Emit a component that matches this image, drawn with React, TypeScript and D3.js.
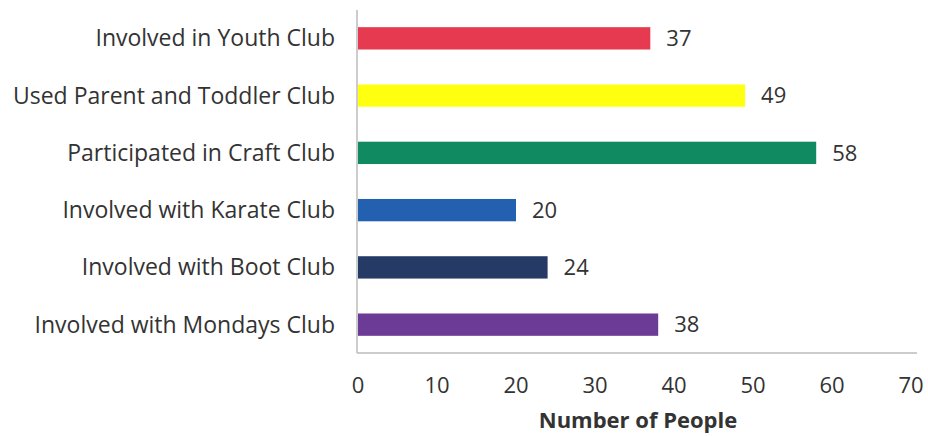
import React from "react";
import * as d3 from "d3";

const categories = [
  "Involved in Youth Club",
  "Used Parent and Toddler Club",
  "Participated in Craft Club",
  "Involved with Karate Club",
  "Involved with Boot Club",
  "Involved with Mondays Club",
];
const values = [37, 49, 58, 20, 24, 38];
const colors = ["#e53a4f", "#ffff10", "#108a60", "#2460b0", "#263a66", "#6b3b96"];
const xTicks = [0, 10, 20, 30, 40, 50, 60, 70];
const xTitle = "Number of People";

export default function App() {
  const W = 928, H = 436;
  const left = 358, right = 911, top = 10, bottom = 353;
  const x = d3.scaleLinear().domain([0, 70]).range([left, right]);
  const y = d3.scaleBand<string>().domain(categories).range([top, bottom]).paddingInner(0.61).paddingOuter(0.3);
  const font = "'Open Sans', sans-serif";
  return (
    <svg width={W} height={H} style={{ position: "absolute", left: 0, top: 0, background: "#fff" }}>
      <line x1={left - 1} x2={left - 1} y1={top} y2={bottom} stroke="#bbb" strokeWidth={1.5} />
      <line x1={left - 1} x2={917} y1={bottom} y2={bottom} stroke="#bbb" strokeWidth={1.5} />
      {categories.map((c, i) => {
        const yc = (y(c) as number) + y.bandwidth() / 2;
        return (
          <g key={c}>
            <rect x={x(0)} y={y(c)} width={x(values[i]) - x(0)} height={y.bandwidth()} fill={colors[i]} />
            <text x={335} y={yc} dy="0.35em" textAnchor="end" fontFamily={font} fontSize={23} fill="#333">{c}</text>
            <text x={x(values[i]) + 16} y={yc} dy="0.35em" fontFamily={font} fontSize={22} fill="#333">{values[i]}</text>
          </g>
        );
      })}
      {xTicks.map((t) => (
        <text key={t} x={x(t)} y={385} dy="0.35em" textAnchor="middle" fontFamily={font} fontSize={22} fill="#333">{t}</text>
      ))}
      <text x={638} y={420} dy="0.35em" textAnchor="middle" fontFamily={font} fontSize={22} fontWeight="bold" fill="#333">{xTitle}</text>
    </svg>
  );
}
